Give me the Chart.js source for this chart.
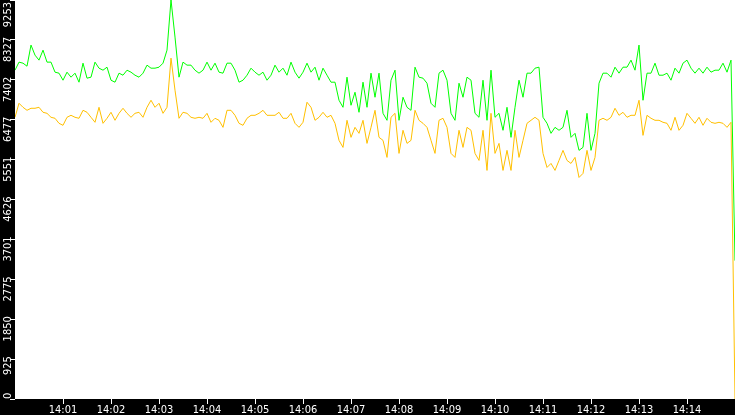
<!DOCTYPE html>
<html lang="en">
<head>
  <meta charset="UTF-8">
  <title>Traffic 14:00 - 14:15</title>
  <script src="https://cdn.jsdelivr.net/npm/chart.js"></script>
  <style>
    html, body {
      margin: 0;
      padding: 0;
      background: #000000;
    }

    .wrap {
      width: 735px;
      height: 415px;
    }
  </style>
</head>
<body>
  <div class="wrap"><canvas id="trafficChart"></canvas></div>

  <script>
    // one sample every 5 seconds, starting 14:00:00
    const sampleSeconds = 5;
    const spanSeconds = 900;

    const timeTicks = ['14:01', '14:02', '14:03', '14:04', '14:05', '14:06', '14:07',
      '14:08', '14:09', '14:10', '14:11', '14:12', '14:13', '14:14'];

    const yTicks = [0, 925, 1850, 2775, 3701, 4626, 5551, 6477, 7402, 8327, 9253];

    const greenValues = [
      7625, 7812, 7788, 7718, 8207, 7974, 7858, 8090, 7812, 7812,
      7579, 7556, 7393, 7579, 7463, 7556, 7347, 7788, 7440, 7463,
      7812, 7672, 7625, 7695, 7393, 7347, 7556, 7509, 7625, 7579,
      7509, 7463, 7556, 7742, 7672, 7672, 7695, 7788, 8090, 9253,
      8393, 7463, 7812, 7742, 7742, 7625, 7556, 7625, 7812, 7625,
      7788, 7579, 7556, 7788, 7788, 7625, 7347, 7393, 7509, 7672,
      7579, 7509, 7579, 7393, 7509, 7742, 7579, 7672, 7509, 7812,
      7579, 7440, 7579, 7788, 7579, 7695, 7393, 7672, 7509, 7347,
      7347, 6928, 6765, 7463, 6812, 7114, 6649, 7347, 6765, 7556,
      6998, 7556, 6625, 6463, 7393, 7625, 6463, 6998, 6765, 6695,
      7695, 7463, 7440, 7323, 6858, 6765, 7556, 7625, 7393, 6625,
      6463, 7323, 6998, 7463, 7393, 6625, 6533, 7393, 6463, 7625,
      6533, 6625, 6231, 6765, 6068, 6765, 7393, 6998, 7556, 7556,
      7672, 7695, 6533, 6393, 6161, 6300, 6231, 6300, 6695, 6068,
      6161, 5766, 5835, 6625, 5766, 6161, 7323, 7556, 7556, 7463,
      7695, 7556, 7695, 7695, 7858, 7625, 8207, 6928, 7556, 7556,
      7788, 7509, 7509, 7556, 7393, 7672, 7556, 7788, 7858, 7672,
      7556, 7672, 7556, 7695, 7579, 7625, 7625, 7788, 7579, 7858,
      3208
    ];

    const orangeValues = [
      6533, 6858, 6765, 6695, 6742, 6742, 6765, 6649, 6625, 6533,
      6510, 6393, 6347, 6533, 6579, 6533, 6510, 6695, 6649, 6533,
      6417, 6765, 6393, 6510, 6649, 6463, 6625, 6742, 6625, 6533,
      6625, 6649, 6533, 6765, 6928, 6765, 6858, 6625, 6765, 7905,
      7161, 6510, 6649, 6625, 6533, 6510, 6533, 6510, 6625, 6417,
      6510, 6463, 6300, 6695, 6695, 6579, 6393, 6347, 6510, 6579,
      6579, 6625, 6695, 6579, 6579, 6579, 6649, 6510, 6510, 6625,
      6393, 6300, 6417, 6882, 6765, 6463, 6533, 6649, 6533, 6579,
      6393, 5998, 5835, 6463, 6068, 6300, 6161, 6463, 5928, 6300,
      6695, 6068, 5998, 5603, 6533, 6625, 5696, 6231, 5928, 5998,
      6695, 6463, 6393, 6300, 5998, 5696, 6463, 6510, 6300, 5696,
      5603, 6231, 5835, 6300, 6231, 5696, 5533, 6231, 5301, 6625,
      5696, 5928, 5301, 5766, 5301, 6231, 5603, 5998, 6393, 6463,
      6533, 6463, 5696, 5370, 5463, 5301, 5533, 5766, 5533, 5463,
      5603, 5138, 5231, 5766, 5301, 5603, 6463, 6510, 6463, 6533,
      6742, 6579, 6649, 6533, 6579, 6579, 6928, 6114, 6579, 6510,
      6463, 6463, 6417, 6393, 6231, 6533, 6231, 6347, 6625, 6510,
      6393, 6533, 6347, 6510, 6417, 6393, 6417, 6393, 6300, 6417,
      0
    ];

    const labelFont = '"DejaVu Sans Condensed", "DejaVu Sans", sans-serif';

    const toPoints = (values) => values.map((v, i) => ({ x: i * sampleSeconds, y: v }));

    // black frame, white plot area
    const frame = {
      id: 'frame',
      beforeDraw(chart) {
        const { ctx, chartArea } = chart;
        ctx.save();
        ctx.fillStyle = '#000000';
        ctx.fillRect(0, 0, chart.width, chart.height);
        ctx.fillStyle = '#FFFFFF';
        ctx.fillRect(chartArea.left, chartArea.top, chartArea.right - chartArea.left, chartArea.bottom - chartArea.top);
        ctx.restore();
      }
    };

    // y labels are written sideways, which the library does not do for vertical axes
    const sideLabels = {
      id: 'sideLabels',
      afterDraw(chart) {
        const { ctx, chartArea } = chart;
        const yScale = chart.scales.y;
        ctx.save();
        ctx.fillStyle = '#FFFFFF';
        ctx.font = '11px ' + labelFont;
        ctx.textAlign = 'right';
        ctx.textBaseline = 'alphabetic';
        yTicks.forEach(v => {
          const text = String(v);
          const w = ctx.measureText(text).width;
          let y = yScale.getPixelForValue(v) - 3;
          y = Math.max(y, 2);
          y = Math.min(y, chartArea.bottom - w);
          ctx.save();
          ctx.translate(11, y);
          ctx.rotate(-Math.PI / 2);
          ctx.fillText(text, 0, 0);
          ctx.restore();
        });
        ctx.restore();
      }
    };

    new Chart(document.getElementById('trafficChart'), {
      type: 'line',
      data: {
        datasets: [
          {
            label: 'out',
            data: toPoints(orangeValues),
            borderColor: '#FFC000',
            borderWidth: 1,
            pointRadius: 0,
            tension: 0,
            order: 0
          },
          {
            label: 'in',
            data: toPoints(greenValues),
            borderColor: '#00FF00',
            borderWidth: 1,
            pointRadius: 0,
            tension: 0,
            order: 1
          }
        ]
      },
      options: {
        responsive: true,
        maintainAspectRatio: false,
        animation: false,
        events: [],
        layout: { padding: 0 },
        plugins: {
          legend: { display: false },
          tooltip: { enabled: false }
        },
        scales: {
          x: {
            type: 'linear',
            min: 0,
            max: spanSeconds,
            afterBuildTicks(scale) {
              scale.ticks = timeTicks.map((t, i) => ({ value: (i + 1) * 60 }));
            },
            afterFit(scale) {
              scale.height = 16;
            },
            border: { display: false },
            grid: {
              drawOnChartArea: false,
              drawTicks: true,
              tickLength: 5,
              tickColor: '#FFFFFF'
            },
            ticks: {
              color: '#FFFFFF',
              padding: 0,
              maxRotation: 0,
              autoSkip: false,
              font: { family: labelFont, size: 11 },
              callback: (value, index) => timeTicks[index]
            }
          },
          y: {
            min: 0,
            max: 9253,
            afterBuildTicks(scale) {
              scale.ticks = yTicks.map(v => ({ value: v }));
            },
            afterFit(scale) {
              scale.width = 15;
            },
            border: { display: false },
            grid: {
              drawOnChartArea: false,
              drawTicks: true,
              tickLength: 5,
              tickColor: '#FFFFFF'
            },
            ticks: { display: false }
          }
        }
      },
      plugins: [frame, sideLabels]
    });
  </script>
</body>
</html>
